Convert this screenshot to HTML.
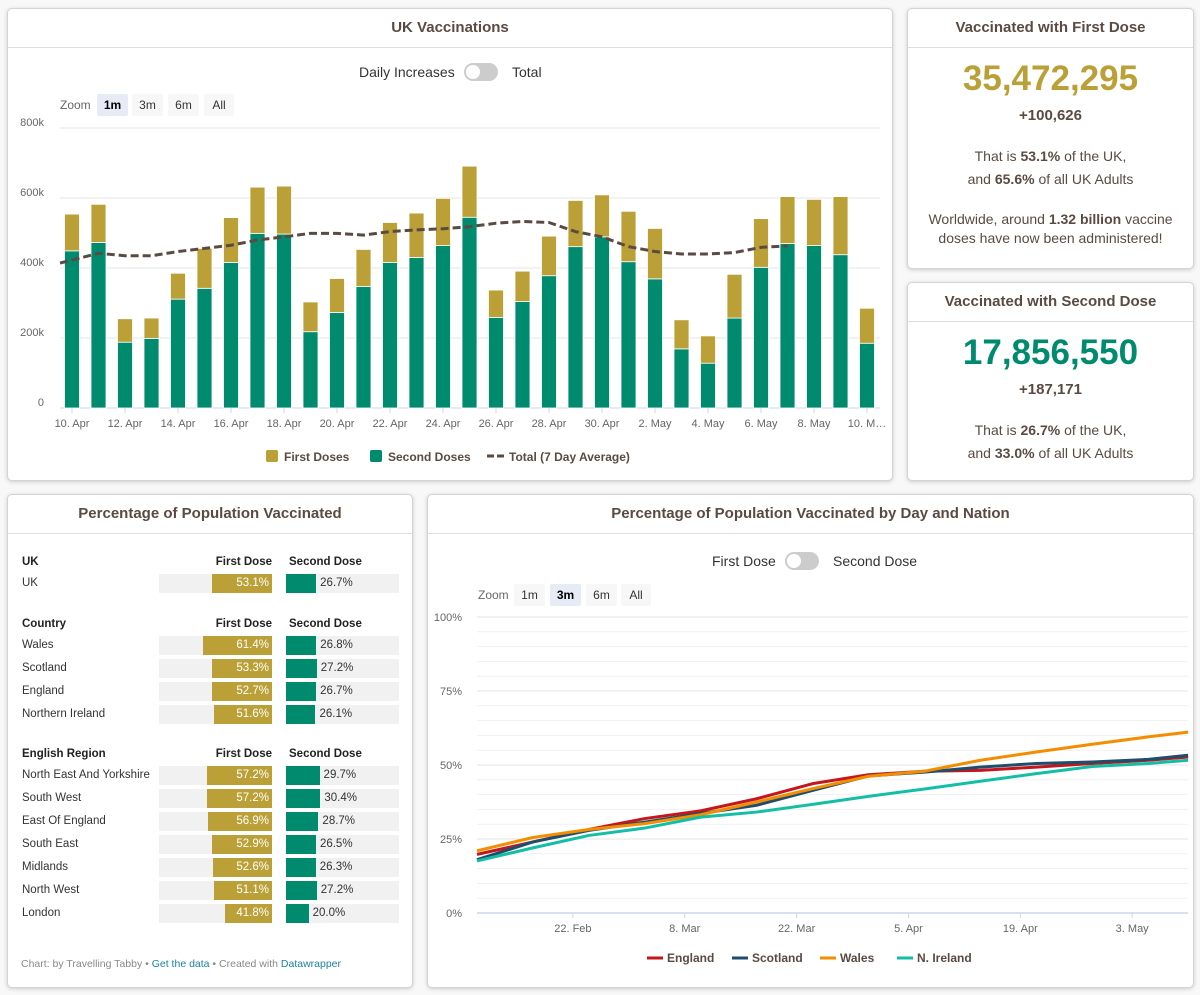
<!DOCTYPE html>
<html><head><meta charset="utf-8">
<style>
body{margin:0;width:1200px;height:995px;background:#f8f8f8;position:relative;overflow:hidden;font-family:"Liberation Sans","DejaVu Sans",sans-serif;color:#5a4a42}
.card{position:absolute;background:#fff;border:1px solid #d4d4d4;border-radius:5px;box-shadow:0 1px 4px rgba(0,0,0,.18)}
.hd{position:absolute;left:0;right:0;top:0;height:38px;border-bottom:1px solid #ddd;text-align:center;font-weight:bold;font-size:15px;line-height:38px;color:#5a4a42}
.abs{position:absolute}
.c{text-align:center;left:0;right:0}
.tog{position:absolute;width:34px;height:18px;border-radius:9px;background:#ccc}
.tog:after{content:"";position:absolute;left:2px;top:2px;width:14px;height:14px;border-radius:50%;background:#fff}
.zb{position:absolute;height:22px;line-height:22px;font-size:12px;text-align:center;background:#f7f7f7;color:#333;border-radius:2px}
.zb.sel{background:#e6ebf5;font-weight:bold;color:#000}
.tbl{font-size:11.5px;color:#333}
.tbl .h{position:absolute;font-weight:bold;color:#222}
.tbl .bg{position:absolute;background:#f1f1f1;height:19px}
.tbl .b1{position:absolute;background:#baa036;height:19px;color:#fff;text-align:right;line-height:19px;box-sizing:border-box;padding-right:3px}
.tbl .b2{position:absolute;background:#008a6e;height:19px}
.tbl .v2{position:absolute;line-height:19px}
svg text{font-family:"Liberation Sans","DejaVu Sans",sans-serif}
</style></head><body>

<div class="card" style="left:7px;top:8px;width:884px;height:471px">
 <div class="hd">UK Vaccinations</div>
 <div class="abs" style="left:351px;top:55px;font-size:14px;color:#333">Daily Increases</div>
 <div class="tog" style="left:456px;top:54px"></div>
 <div class="abs" style="left:504px;top:55px;font-size:14px;color:#333">Total</div>
 <div class="abs" style="left:52px;top:89px;font-size:12px;color:#666">Zoom</div>
 <div class="zb sel" style="left:89px;top:85px;width:31px">1m</div>
 <div class="zb" style="left:124px;top:85px;width:31px">3m</div>
 <div class="zb" style="left:160px;top:85px;width:31px">6m</div>
 <div class="zb" style="left:196px;top:85px;width:30px">All</div>
</div>

<div class="card" style="left:907px;top:8px;width:285px;height:259px">
 <div class="hd">Vaccinated with First Dose</div>
 <div class="abs c" style="top:50px;font-size:35px;font-weight:bold;color:#baa036">35,472,295</div>
 <div class="abs c" style="top:98px;font-size:15px;font-weight:bold">+100,626</div>
 <div class="abs c" style="top:136px;font-size:14px;line-height:23px">That is <b>53.1%</b> of the UK,<br>and <b>65.6%</b> of all UK Adults</div>
 <div class="abs c" style="top:201px;font-size:14px;line-height:19px">Worldwide, around <b>1.32 billion</b> vaccine<br>doses have now been administered!</div>
</div>

<div class="card" style="left:907px;top:282px;width:285px;height:197px">
 <div class="hd">Vaccinated with Second Dose</div>
 <div class="abs c" style="top:50px;font-size:35px;font-weight:bold;color:#008a6e">17,856,550</div>
 <div class="abs c" style="top:98px;font-size:15px;font-weight:bold">+187,171</div>
 <div class="abs c" style="top:136px;font-size:14px;line-height:23px">That is <b>26.7%</b> of the UK,<br>and <b>33.0%</b> of all UK Adults</div>
</div>

<div class="card" style="left:7px;top:494px;width:404px;height:492px">
 <div class="hd">Percentage of Population Vaccinated</div>
</div>
<div class="tbl" id="tbl"></div>
<div class="abs" style="left:21px;top:958px;font-size:10.5px;color:#888">Chart: by Travelling Tabby • <span style="color:#1d81a2">Get the data</span> • Created with <span style="color:#1d81a2">Datawrapper</span></div>

<div class="card" style="left:427px;top:494px;width:765px;height:492px">
 <div class="hd">Percentage of Population Vaccinated by Day and Nation</div>
 <div class="abs" style="left:284px;top:58px;font-size:14px;color:#333">First Dose</div>
 <div class="tog" style="left:357px;top:57px"></div>
 <div class="abs" style="left:405px;top:58px;font-size:14px;color:#333">Second Dose</div>
 <div class="abs" style="left:50px;top:93px;font-size:12px;color:#666">Zoom</div>
 <div class="zb" style="left:86px;top:89px;width:31px">1m</div>
 <div class="zb sel" style="left:122px;top:89px;width:31px">3m</div>
 <div class="zb" style="left:158px;top:89px;width:31px">6m</div>
 <div class="zb" style="left:193px;top:89px;width:30px">All</div>
</div>

<svg id="bars" width="1200" height="995" style="position:absolute;left:0;top:0;pointer-events:none"></svg>
<svg id="lines" width="1200" height="995" style="position:absolute;left:0;top:0;pointer-events:none"></svg>

<script>
// ---- bar chart data (thousands) ----
const barDates = ["10. Apr","11. Apr","12. Apr","13. Apr","14. Apr","15. Apr","16. Apr","17. Apr","18. Apr","19. Apr","20. Apr","21. Apr","22. Apr","23. Apr","24. Apr","25. Apr","26. Apr","27. Apr","28. Apr","29. Apr","30. Apr","1. May","2. May","3. May","4. May","5. May","6. May","7. May","8. May","9. May","10. M…"];
const secondDoses = [449,473,188,199,311,342,416,499,497,218,273,347,416,430,464,545,259,304,378,461,489,418,369,169,128,257,402,470,464,438,185];
const firstDoses = [105,109,67,58,74,114,128,132,137,85,97,106,114,127,135,146,78,87,113,132,120,144,144,83,78,125,139,134,132,166,100];
const avgTotal = [414,442,435,435,447,456,465,480,489,499,499,494,504,509,512,518,528,533,530,504,489,461,447,440,440,444,459,463];
const barTicks = [0,200,400,600,800];

// ---- line chart data (% first dose) ----
const lineDays = [0,7,14,21,28,35,42,49,56,63,70,77,84,89]; // days since 10 Feb
const england = [19.8,24,28.2,31.9,34.5,38.6,43.7,46.7,47.9,48.2,49.3,50.5,51.6,52.7];
const scotland = [18,24,27.9,30.7,33.6,36.4,41.4,46.3,47.6,49.3,50.5,51,51.9,53.3];
const wales = [21,25.5,28.2,30.2,33.2,37.5,42,46.2,47.9,51.6,54.4,57,59.5,61.1];
const nIreland = [17.6,22,26.2,28.7,32.4,34.1,36.7,39.4,41.9,44.5,47.1,49.5,50.5,51.6];
const lineTickLabels = ["22. Feb","8. Mar","22. Mar","5. Apr","19. Apr","3. May"];
const lineTickDays = [12,26,40,54,68,82];
const yTicks = [0,25,50,75,100];

// ---- table data ----
const tableGroups = ["UK","Country","English Region"];
const tableRows = [
 ["UK",[["UK",53.1,26.7]]],
 ["Country",[["Wales",61.4,26.8],["Scotland",53.3,27.2],["England",52.7,26.7],["Northern Ireland",51.6,26.1]]],
 ["English Region",[["North East And Yorkshire",57.2,29.7],["South West",57.2,30.4],["East Of England",56.9,28.7],["South East",52.9,26.5],["Midlands",52.6,26.3],["North West",51.1,27.2],["London",41.8,20.0]]]
];

const NS="http://www.w3.org/2000/svg";
function mk(svg,tag,attrs,txt){const e=document.createElementNS(NS,tag);for(const k in attrs)e.setAttribute(k,attrs[k]);if(txt!==undefined)e.textContent=txt;svg.appendChild(e);return e;}

// bar chart
const bs=document.getElementById('bars');
const bx=i=>72+i*26.5;
const by=v=>408-v*0.35;
barTicks.forEach(t=>{
 const g=mk(bs,'line',{x1:60,x2:880,y1:by(t),y2:by(t),stroke:t===0?'#ccd6eb':'#e6e6e6','stroke-width':1});
 
 
 const l=mk(bs,'text',{x:44,y:by(t)-2,'text-anchor':'end','font-size':11,fill:'#666'},t===0?'0':t+'k');
 
 
});
secondDoses.forEach((s,i)=>{
 const f=firstDoses[i];
 const r1=mk(bs,'rect',{x:bx(i)-7.5,y:by(s),width:15,height:by(0)-by(s),fill:'#008a6e',stroke:'#fff','stroke-width':0.8});
 
 
 const r2=mk(bs,'rect',{x:bx(i)-7.5,y:by(s+f),width:15,height:by(s)-by(s+f),fill:'#baa036',stroke:'#fff','stroke-width':0.8});
 
 
 if(i%2===0){
  const tk=mk(bs,'line',{x1:bx(i),x2:bx(i),y1:408,y2:413,stroke:'#ccd6eb'});
  
  
  const tl=mk(bs,'text',{x:bx(i),y:427,'text-anchor':'middle','font-size':11,fill:'#666'},barDates[i]);
  
  
 }
});
(function(){
 let d='';avgTotal.forEach((v,i)=>{const x=i===0?60:bx(i);d+=(i?'L':'M')+x+','+by(v);});
 const p=mk(bs,'path',{d:d,fill:'none',stroke:'#5a4a42','stroke-width':3,'stroke-dasharray':'8,4','stroke-linejoin':'round'});
 
 
})();
[[266,'#baa036','First Doses','legend-first-doses'],[370,'#008a6e','Second Doses','legend-second-doses']].forEach(a=>{
 const r=mk(bs,'rect',{x:a[0],y:450,width:12,height:12,rx:2,fill:a[1]});
 
 
 const t=mk(bs,'text',{x:a[0]+18,y:461,'font-size':12,'font-weight':'bold',fill:'#5a4a42'},a[2]);
 
 
});
(function(){
 const l=mk(bs,'line',{x1:487,x2:505,y1:456,y2:456,stroke:'#5a4a42','stroke-width':3,'stroke-dasharray':'7,3'});
 
 
 const t=mk(bs,'text',{x:509,y:461,'font-size':12,'font-weight':'bold',fill:'#5a4a42'},'Total (7 Day Average)');
 
 
})();

// line chart
const ls=document.getElementById('lines');
const lx=d=>477+d*7.99;
const ly=p=>913-p*2.96;
for(let p=0;p<=100;p+=5){
 const g=mk(ls,'line',{x1:477,x2:1188,y1:ly(p),y2:ly(p),stroke:p===0?'#ccd6eb':(p%25===0?'#e3e3e3':'#f1f1f1'),'stroke-width':p===0?1.5:1});
 
 
}
yTicks.forEach(t=>{
 const l=mk(ls,'text',{x:462,y:ly(t)+4,'text-anchor':'end','font-size':11,fill:'#666'},t+'%');
 
 
});
lineTickDays.forEach((d,i)=>{
 const tk=mk(ls,'line',{x1:lx(d),x2:lx(d),y1:913,y2:918,stroke:'#ccd6eb'});
 
 
 const tl=mk(ls,'text',{x:lx(d),y:932,'text-anchor':'middle','font-size':11,fill:'#666'},lineTickLabels[i]);
 
 
});
const series=[[england,'#c4161c','England'],[scotland,'#1d4e6b','Scotland'],[wales,'#f28e00','Wales'],[nIreland,'#12bfa6','N. Ireland']];
series.forEach(s=>{
 let d='';s[0].forEach((v,i)=>{d+=(i?'L':'M')+lx(lineDays[i])+','+ly(v);});
 const p=mk(ls,'path',{d:d,fill:'none',stroke:s[1],'stroke-width':3,'stroke-linejoin':'round'});
 
 
});
[[647,0],[732,1],[820,2],[897,3]].forEach(a=>{
 const s=series[a[1]];
 const l=mk(ls,'line',{x1:a[0],x2:a[0]+16,y1:958,y2:958,stroke:s[1],'stroke-width':3});
 
 
 const t=mk(ls,'text',{x:a[0]+20,y:962,'font-size':12,'font-weight':'bold',fill:'#5a4a42'},s[2]);
 
 
});

// table
const tb=document.getElementById('tbl');
function div(cls,style,txt){const e=document.createElement('div');e.className=cls;e.setAttribute('style','position:absolute;'+style);if(txt!==undefined)e.textContent=txt;tb.appendChild(e);return e;}
const headerY=[556,618,748];
tableRows.forEach((g,gi)=>{
 const hy=headerY[gi];
 let e=div('h','left:22px;top:'+hy+'px',g[0]);
 
 
 e=div('h','left:190px;width:82px;text-align:right;top:'+hy+'px','First Dose');
 
 
 e=div('h','left:289px;top:'+hy+'px','Second Dose');
 
 
 g[1].forEach((r,ri)=>{
  const y=hy+18+ri*23;
  let n=div('','left:22px;top:'+(y+3)+'px',r[0]);
  
  
  n=div('bg','left:159px;width:113px;top:'+y+'px');
  
  
  n=div('bg','left:286px;width:113px;top:'+y+'px');
  
  
  const w1=r[1]*1.13;
  n=div('b1','left:'+(272-w1)+'px;width:'+w1+'px;top:'+y+'px',r[1].toFixed(1)+'%');
  
  
  const w2=r[2]*1.13;
  n=div('b2','left:286px;width:'+w2+'px;top:'+y+'px');
  
  
  n=div('v2','left:'+(290+w2)+'px;top:'+y+'px',r[2].toFixed(1)+'%');
  
  
 });
});
</script>
</body></html>
